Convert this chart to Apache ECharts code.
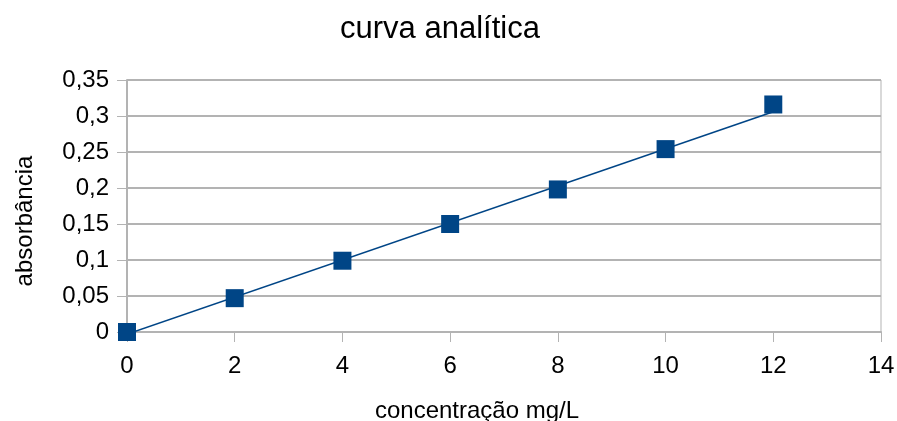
<!DOCTYPE html>
<html>
<head>
<meta charset="utf-8">
<title>curva analítica</title>
<script src="https://cdn.jsdelivr.net/npm/echarts@6/dist/echarts.min.js"></script>
<style>
html, body { margin: 0; padding: 0; background: #fff; }
#curve { width: 897px; height: 421px; }
</style>
</head>
<body>
<div id="curve"></div>
<script>
// concentração (mg/L) e absorbância
var concentracao = [0, 2, 4, 6, 8, 10, 12];
var absorbancia = [0, 0.047, 0.099, 0.15, 0.198, 0.254, 0.316];
// linha de tendência: extremos
var tendenciaX = [0, 12];
var tendenciaY = [-0.003, 0.306];
var yTicks = [0, 0.05, 0.1, 0.15, 0.2, 0.25, 0.3, 0.35];
var xTicks = [0, 2, 4, 6, 8, 10, 12, 14];

var fonte = 'Liberation Sans';
var cinza = '#b3b3b3';
var azul = '#004586';

function virgula(v) {
	return String(v).replace('.', ',');
}

function createEcharts() {
	var myChart = echarts.init(document.getElementById('curve'));
	var pontos = [];
	for (var i = 0; i < concentracao.length; i++) {
		pontos.push([concentracao[i], absorbancia[i]]);
	}
	var linha = [];
	for (var j = 0; j < tendenciaX.length; j++) {
		linha.push([tendenciaX[j], tendenciaY[j]]);
	}
	var option = {
		animation: false,
		title: {
			text: 'curva analítica',
			left: 335,
			top: 9,
			textStyle: { fontFamily: fonte, fontSize: 31, fontWeight: 'normal', color: '#000' }
		},
		grid: {
			left: 127,
			right: 16,
			top: 80,
			bottom: 89,
			outerBoundsMode: 'none',
			containLabel: false,
			show: true,
			borderColor: cinza,
			borderWidth: 1
		},
		xAxis: {
			type: 'value',
			min: xTicks[0],
			max: xTicks[xTicks.length - 1],
			interval: 2,
			name: 'concentração mg/L',
			nameLocation: 'middle',
			nameGap: 67,
			nameTextStyle: { fontFamily: fonte, fontSize: 24, color: '#000', padding: [0, 54, 0, 0] },
			axisLine: { show: true, lineStyle: { color: cinza, width: 2 } },
			axisTick: { show: true, length: 10, lineStyle: { color: cinza } },
			splitLine: { show: false },
			axisLabel: { margin: 22, fontFamily: fonte, fontSize: 24, color: '#000' }
		},
		yAxis: {
			type: 'value',
			min: yTicks[0],
			max: yTicks[yTicks.length - 1],
			interval: 0.05,
			name: 'absorbância',
			nameLocation: 'middle',
			nameGap: 90,
			nameTextStyle: { fontFamily: fonte, fontSize: 24, color: '#000', padding: [0, 30, 0, 0] },
			axisLine: { show: true, lineStyle: { color: cinza, width: 2 } },
			axisTick: { show: true, length: 10, lineStyle: { color: cinza } },
			splitLine: { show: true, lineStyle: { color: cinza, width: 2 } },
			axisLabel: {
				margin: 18,
				fontFamily: fonte,
				fontSize: 24,
				color: '#000',
				formatter: function (v) { return virgula(Math.round(v * 100) / 100); }
			}
		},
		series: [{
			type: 'line',
			data: linha,
			symbol: 'none',
			lineStyle: { color: azul, width: 1.5 },
			z: 2
		}, {
			type: 'scatter',
			data: pontos,
			symbol: 'rect',
			symbolSize: 18,
			itemStyle: { color: azul, opacity: 1 },
			z: 3
		}]
	};
	myChart.setOption(option);
}

createEcharts();
</script>
</body>
</html>
